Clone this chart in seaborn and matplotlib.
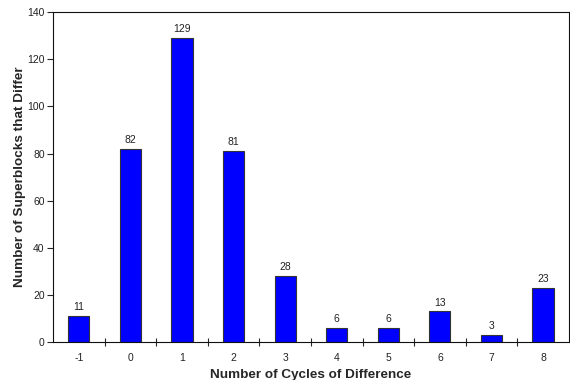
import numpy as np
import pandas as pd
import seaborn as sns
import matplotlib.pyplot as plt
from matplotlib.ticker import FixedLocator

cycles = ["-1", "0", "1", "2", "3", "4", "5", "6", "7", "8"]
counts = [11, 82, 129, 81, 28, 6, 6, 13, 3, 23]

df = pd.DataFrame({"cycles": cycles, "count": counts})

sns.set_theme(style="white")
plt.rcParams["font.family"] = ["Liberation Sans", "DejaVu Sans"]

fig, ax = plt.subplots(figsize=(5.7, 3.8), dpi=100)
fig.subplots_adjust(left=0.093, right=0.998, top=0.968, bottom=0.1)

sns.barplot(data=df, x="cycles", y="count", order=cycles, color="#0000ff",
            saturation=1, width=0.41, edgecolor="#333333", linewidth=0.8, ax=ax)

for i, v in enumerate(counts):
    ax.text(i, v + 1.6, str(v), ha="center", va="bottom", fontsize=7.5, color="#222222")

ax.set_ylim(0, 140)
ax.set_xlim(-0.5, len(cycles) - 0.5)
ax.set_yticks(np.arange(0, 141, 20))
ax.tick_params(axis="y", direction="out", length=4, width=0.8, labelsize=7.5, pad=2,
               left=True, labelcolor="#222222")
ax.tick_params(axis="x", which="major", length=0, labelsize=7.5, pad=8, labelcolor="#222222")
ax.xaxis.set_minor_locator(FixedLocator(np.arange(0.5, len(cycles) - 1, 1)))
ax.tick_params(axis="x", which="minor", direction="inout", length=6, width=0.8, bottom=True)

for s in ax.spines.values():
    s.set_color("#111111")
    s.set_linewidth(0.8)

ax.set_xlabel("Number of Cycles of Difference", fontsize=9.7, fontweight="bold", labelpad=4)
ax.set_ylabel("Number of Superblocks that Differ", fontsize=9.7, fontweight="bold", labelpad=1)

plt.savefig("out.png", dpi=100)
